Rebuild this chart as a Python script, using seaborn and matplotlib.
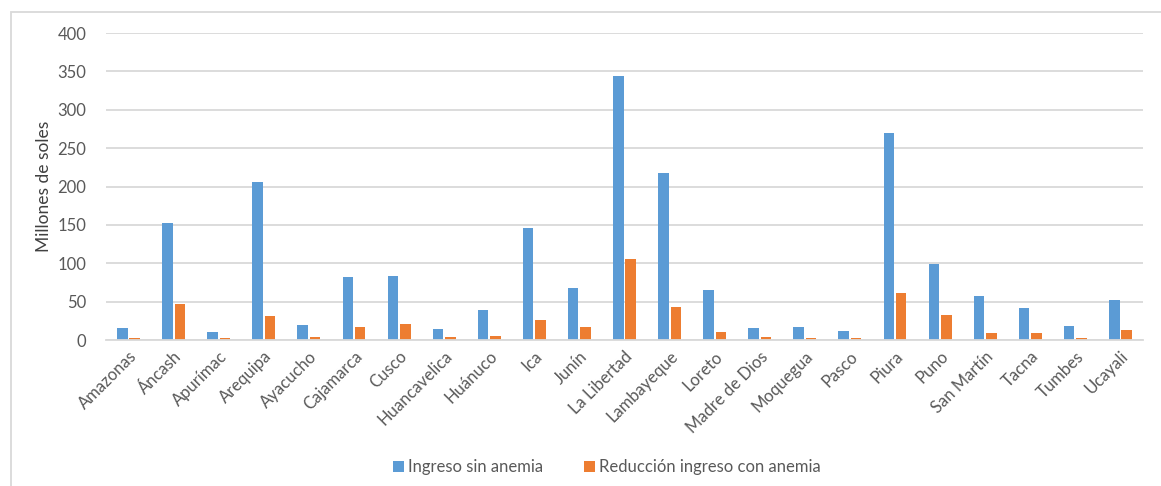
import pandas as pd
import numpy as np
import matplotlib
matplotlib.use("Agg")
import matplotlib.pyplot as plt
import seaborn as sns

regiones = ['Amazonas', 'Áncash', 'Apurímac', 'Arequipa', 'Ayacucho', 'Cajamarca',
            'Cusco', 'Huancavelica', 'Huánuco', 'Ica', 'Junín', 'La Libertad',
            'Lambayeque', 'Loreto', 'Madre de Dios', 'Moquegua', 'Pasco', 'Piura',
            'Puno', 'San Martín', 'Tacna', 'Tumbes', 'Ucayali']
ingreso_sin_anemia = [16, 152, 10, 205.5, 19.5, 81.7, 83, 14.8, 38.7, 146, 67.3, 343.5,
                      217, 64.7, 16, 17.4, 11.3, 270, 99.5, 57, 41.3, 18.7, 51.7]
reduccion_con_anemia = [2, 47, 2, 31.7, 4, 17.4, 20.8, 3.9, 5.2, 25.6, 17, 105.5,
                        42.6, 10, 3.9, 2, 2.6, 61.7, 32, 9, 9, 2.6, 12.6]
series = ['Ingreso sin anemia', 'Reducción ingreso con anemia']

df = pd.DataFrame({
    'region': regiones * 2,
    'valor': ingreso_sin_anemia + reduccion_con_anemia,
    'serie': [series[0]] * len(regiones) + [series[1]] * len(regiones),
})

sns.set_style("white")
plt.rcParams['font.family'] = ['Lato', 'DejaVu Sans']

fig = plt.figure(figsize=(11.61, 4.86), dpi=100)
ax = fig.add_axes([0.0913, 0.3004, 0.8932, 0.6316])

sns.barplot(data=df, x='region', y='valor', hue='serie',
            palette=['#5B9BD5', '#ED7D31'], width=0.55, gap=0.15,
            ax=ax, legend=True, edgecolor='none', saturation=1)

ax.set_ylim(0, 400)
ax.set_yticks(np.arange(0, 401, 50))
ax.set_xlim(-0.5, len(regiones) - 0.5)
ax.grid(axis='y', color='#D9D9D9', linewidth=1.3)
ax.set_axisbelow(True)
for s in ['top', 'right', 'left']:
    ax.spines[s].set_visible(False)
ax.spines['bottom'].set_color('#D9D9D9')
ax.spines['bottom'].set_linewidth(1.3)

ax.tick_params(axis='both', length=0, colors='#595959', labelsize=12)
plt.setp(ax.get_xticklabels(), rotation=45, ha='right', rotation_mode='anchor')
ax.tick_params(axis='x', pad=6)
ax.tick_params(axis='y', pad=14)
ax.set_xlabel('')
ax.set_ylabel('Millones de soles', fontsize=12.5, color='#404040', labelpad=4)

ax.legend(loc='center', bbox_to_anchor=(0.483, -0.415), ncol=2, frameon=False,
          fontsize=12, handlelength=0.7, handleheight=0.7, columnspacing=2.4,
          handletextpad=0.25, labelcolor='#595959')

# chart border
fig.patches.append(matplotlib.patches.Rectangle(
    (11 / 1161, -0.1), 1.2, 1 - 12 / 486 + 0.1, transform=fig.transFigure,
    fill=False, edgecolor='#D9D9D9', linewidth=1.3))

fig.savefig('out.png', dpi=100)
